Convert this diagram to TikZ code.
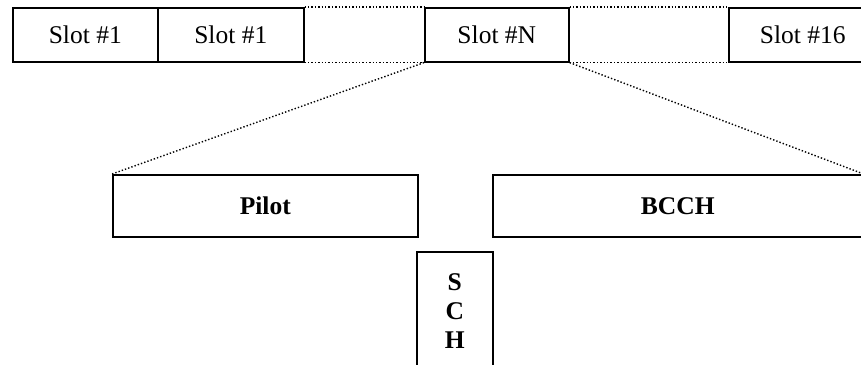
\documentclass[tikz,border=0pt]{standalone}
\usepackage{fontspec}
\setmainfont{Liberation Serif}
\usepackage{tikz}

\begin{document}
\begin{tikzpicture}[x=1pt, y=-1pt,
        slotbox/.style={rectangle, draw, line width=1.6pt, inner sep=0pt, anchor=north west,
            minimum height=54pt, font=\fontsize{25.5}{29}\selectfont},
        partbox/.style={rectangle, draw, line width=1.6pt, inner sep=0pt, anchor=north west,
            minimum height=62pt, font=\fontsize{25.5}{29}\selectfont\bfseries},
        gap/.style={dotted, line width=1.4pt}]
        \useasboundingbox (0,0) rectangle (861,364);
        \clip (0,0) rectangle (861,364);

        \node[slotbox, minimum width=145pt] (s1) at (12,7) {Slot \#1};
        \node[slotbox, minimum width=146pt] (s2) at (157,7) {Slot \#1};
        \node[slotbox, minimum width=144pt] (sn) at (424,7) {Slot \#N\hspace{26pt}};
        \node[slotbox, minimum width=134pt] (s16) at (728,7) {\hspace{14pt}Slot \#16};

        \node[partbox, minimum width=305pt] (pilot) at (112,174) {Pilot};
        \node[partbox, minimum width=370pt] (bcch) at (492,174) {BCCH};
        \node[partbox, minimum width=76pt, minimum height=118pt, align=center] (sch) at (416,251)
            {S\\C\\H};

        \draw[gap] (s2.north east) -- (sn.north west);
        \draw[gap] (s2.south east) -- (sn.south west);
        \draw[gap] (sn.north east) -- (s16.north west);
        \draw[gap] (sn.south east) -- (s16.south west);
        \draw[gap] (sn.south west) -- (pilot.north west);
        \draw[gap] (sn.south east) -- (bcch.north east);
    \end{tikzpicture}
\end{document}
